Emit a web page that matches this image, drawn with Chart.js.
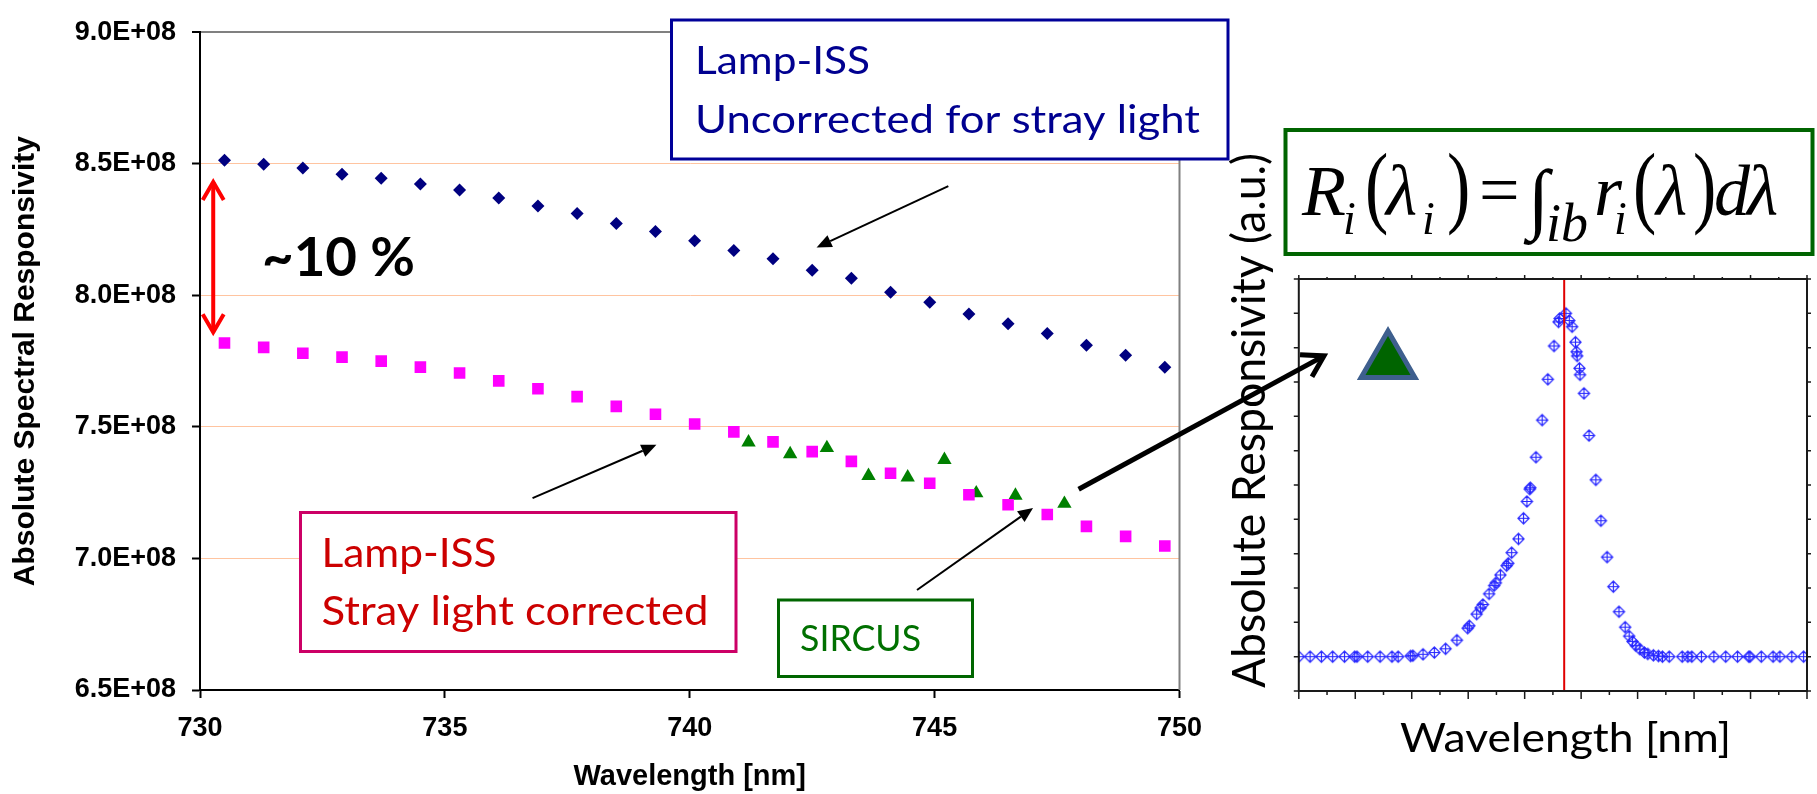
<!DOCTYPE html>
<html>
<head>
<meta charset="utf-8">
<script src="https://cdn.jsdelivr.net/npm/chart.js@4.4.1/dist/chart.umd.min.js"></script>
<style>
  html, body { margin: 0; padding: 0; background: #fff; }
  #wrap { position: relative; width: 1817px; height: 794px; overflow: hidden; }
  #wrap canvas { position: absolute; left: 0; top: 0; }
</style>
</head>
<body>
<div id="wrap">
  <canvas id="main" width="1817" height="794"></canvas>
  <canvas id="inset" width="1817" height="794"></canvas>
</div>
<script>
// ---- Lamp-ISS and SIRCUS responsivity, 730-750 nm ----
const wavelengthNm = [730.5, 731.3, 732.1, 732.9, 733.7, 734.5, 735.3, 736.1, 736.9, 737.7,
                      738.5, 739.3, 740.1, 740.9, 741.7, 742.5, 743.3, 744.1, 744.9, 745.7,
                      746.5, 747.3, 748.1, 748.9, 749.7];
const lampUncorrected = [8.513e8, 8.498e8, 8.484e8, 8.460e8, 8.445e8, 8.423e8, 8.400e8, 8.370e8, 8.339e8, 8.311e8,
                         8.273e8, 8.243e8, 8.207e8, 8.170e8, 8.139e8, 8.095e8, 8.065e8, 8.012e8, 7.974e8, 7.929e8,
                         7.892e8, 7.855e8, 7.810e8, 7.772e8, 7.727e8];
const lampCorrected = [7.819e8, 7.802e8, 7.780e8, 7.765e8, 7.750e8, 7.727e8, 7.705e8, 7.675e8, 7.645e8, 7.615e8,
                       7.578e8, 7.548e8, 7.511e8, 7.481e8, 7.443e8, 7.406e8, 7.369e8, 7.324e8, 7.286e8, 7.242e8,
                       7.204e8, 7.167e8, 7.122e8, 7.084e8, 7.047e8];
const sircusNm = [741.2, 742.05, 742.8, 743.65, 744.45, 745.2, 745.85, 746.65, 747.65];
const sircusResp = [7.441e8, 7.397e8, 7.420e8, 7.314e8, 7.308e8, 7.375e8, 7.248e8, 7.239e8, 7.208e8];

const xTicks = [730, 735, 740, 745, 750];
const yTicks = [6.5e8, 7.0e8, 7.5e8, 8.0e8, 8.5e8, 9.0e8];

// ---- filter band relative response (inset) ----
const bandNm = [725.0, 726.0, 727.0, 728.0, 729.05, 729.95, 730.15, 731.1, 732.2, 733.25,
                733.8, 734.9, 735.1, 736.0, 737.0, 738.0, 739.0, 739.95, 740.1, 740.75,
                741.1, 741.3, 741.85, 742.3, 742.45, 742.85, 743.4, 743.55, 743.85, 744.45,
                744.9, 745.2, 745.45, 745.5, 746.0, 746.55, 747.05, 747.6, 748.0, 748.1,
                748.65, 748.95, 749.2, 749.5, 749.6, 749.65, 749.85, 749.9, 750.25, 750.7,
                751.3, 751.75, 752.3, 752.85, 753.35, 753.9, 754.25, 754.55, 754.85, 755.2,
                755.6, 755.9, 756.4, 756.85, 757.2, 757.8, 758.95, 759.45, 759.8, 760.65,
                761.75, 762.8, 763.85, 764.85, 764.95, 765.95, 767.0, 767.6, 768.65, 769.7];
const bandResp = [0, 0, 0, 0, 0, 0, 0, 0, 0, 0,
                  0, 0.002, 0.003, 0.007, 0.012, 0.023, 0.048, 0.083, 0.090, 0.124,
                  0.142, 0.152, 0.183, 0.207, 0.215, 0.238, 0.265, 0.272, 0.303, 0.343,
                  0.403, 0.452, 0.488, 0.492, 0.581, 0.689, 0.808, 0.905, 0.975, 0.985,
                  1.000, 0.979, 0.961, 0.916, 0.888, 0.876, 0.840, 0.821, 0.767, 0.644,
                  0.515, 0.396, 0.290, 0.204, 0.131, 0.086, 0.060, 0.044, 0.032, 0.022,
                  0.012, 0.008, 0.004, 0.002, 0, 0, 0, 0, 0, 0,
                  0, 0, 0, 0, 0, 0, 0, 0, 0, 0];
const centerLineNm = [748.5, 748.5];
const centerLineResp = [-0.1, 1.1];
const sircusSymbolNm = [732.9];
const sircusSymbolResp = [0.858];

// annotation anchors, in data units
const gapArrow = { x: 730.27, top: 8.438e8, bottom: 7.852e8 };
const calloutArrows = [
  { from: [745.28, 8.415e8], to: [742.59, 8.182e8] },
  { from: [736.79, 7.229e8], to: [739.32, 7.432e8] },
  { from: [744.64, 6.880e8], to: [747.01, 7.192e8] }
];
const bandArrow = { from: [747.94, 7.263e8], to: [727.23, 0.876] };

const pts = (xs, ys) => xs.map((x, i) => ({ x, y: ys[i] }));

// ---- drawing helpers ----
function fitText(ctx, str, x, y, w, font, color) {
  ctx.save();
  ctx.font = font;
  ctx.fillStyle = color;
  ctx.textAlign = 'left';
  ctx.textBaseline = 'alphabetic';
  const mw = ctx.measureText(str).width;
  ctx.translate(x, y);
  ctx.scale(w / mw, 1);
  ctx.fillText(str, 0, 0);
  ctx.restore();
}
function box(ctx, x, y, w, h, color, lw) {
  ctx.save();
  ctx.fillStyle = '#fff';
  ctx.fillRect(x, y, w, h);
  ctx.strokeStyle = color;
  ctx.lineWidth = lw;
  ctx.strokeRect(x, y, w, h);
  ctx.restore();
}
function thinArrow(ctx, x1, y1, x2, y2) {
  const ang = Math.atan2(y2 - y1, x2 - x1);
  const len = 15, half = 6.5;
  const bx = x2 - len * Math.cos(ang), by = y2 - len * Math.sin(ang);
  ctx.save();
  ctx.strokeStyle = '#000';
  ctx.fillStyle = '#000';
  ctx.lineWidth = 2;
  ctx.beginPath(); ctx.moveTo(x1, y1); ctx.lineTo(bx, by); ctx.stroke();
  ctx.beginPath();
  ctx.moveTo(x2, y2);
  ctx.lineTo(bx + half * Math.sin(ang), by - half * Math.cos(ang));
  ctx.lineTo(bx - half * Math.sin(ang), by + half * Math.cos(ang));
  ctx.closePath(); ctx.fill();
  ctx.restore();
}
function openArrow(ctx, x1, y1, x2, y2, lw, arm, spread) {
  const back = Math.atan2(y1 - y2, x1 - x2);
  ctx.save();
  ctx.strokeStyle = '#000';
  ctx.lineWidth = lw;
  ctx.lineCap = 'butt';
  ctx.lineJoin = 'miter';
  ctx.beginPath(); ctx.moveTo(x1, y1); ctx.lineTo(x2, y2); ctx.stroke();
  ctx.beginPath();
  ctx.moveTo(x2 + arm * Math.cos(back + spread), y2 + arm * Math.sin(back + spread));
  ctx.lineTo(x2, y2);
  ctx.lineTo(x2 + arm * Math.cos(back - spread), y2 + arm * Math.sin(back - spread));
  ctx.stroke();
  ctx.restore();
}
function diamondCross(r, color) {
  const s = Math.ceil(2 * r + 3);
  const c = document.createElement('canvas');
  c.width = s; c.height = s;
  const g = c.getContext('2d');
  const m = s / 2;
  g.strokeStyle = color;
  g.lineWidth = 1.2;
  g.beginPath();
  g.moveTo(m, m - r); g.lineTo(m + r, m); g.lineTo(m, m + r); g.lineTo(m - r, m); g.closePath();
  g.moveTo(m - r, m); g.lineTo(m + r, m);
  g.moveTo(m, m - r); g.lineTo(m, m + r);
  g.stroke();
  return c;
}

const SANS = '"Liberation Sans", Arial, sans-serif';
const CAL = 'Lato, "Open Sans", sans-serif';
const SERIF = '"Liberation Serif", "Times New Roman", serif';

// ---- notes on the main plot ----
const mainNotes = {
  id: 'mainNotes',
  afterDraw(chart) {
    const { ctx, chartArea: a } = chart;
    const sx = chart.scales.x, sy = chart.scales.y;
    ctx.save();
    // right frame edge
    ctx.strokeStyle = '#808080';
    ctx.lineWidth = 2;
    ctx.beginPath(); ctx.moveTo(a.right, a.top); ctx.lineTo(a.right, a.bottom); ctx.stroke();

    // ~10 % gap marker
    const gx = sx.getPixelForValue(gapArrow.x);
    const gt = sy.getPixelForValue(gapArrow.top);
    const gb = sy.getPixelForValue(gapArrow.bottom);
    ctx.strokeStyle = '#FF0000';
    ctx.lineWidth = 4;
    ctx.lineJoin = 'miter';
    ctx.beginPath(); ctx.moveTo(gx, gt + 2); ctx.lineTo(gx, gb - 2); ctx.stroke();
    ctx.beginPath(); ctx.moveTo(gx - 10.5, gt + 20); ctx.lineTo(gx, gt + 2); ctx.lineTo(gx + 10.5, gt + 20); ctx.stroke();
    ctx.beginPath(); ctx.moveTo(gx - 10.5, gb - 20); ctx.lineTo(gx, gb - 2); ctx.lineTo(gx + 10.5, gb - 20); ctx.stroke();
    fitText(ctx, '~10 %', 262, 276, 153, 'bold 54px ' + CAL, '#000');

    // labels of the two lamp series and SIRCUS
    box(ctx, 671.5, 20, 556.5, 139, '#000099', 3);
    fitText(ctx, 'Lamp-ISS', 695, 74, 175, '38px ' + CAL, '#000090');
    fitText(ctx, 'Uncorrected for stray light', 695, 133, 505, '38px ' + CAL, '#000090');

    box(ctx, 300.5, 512.5, 435.5, 139, '#CC0066', 3);
    fitText(ctx, 'Lamp-ISS', 321.5, 567, 175, '40px ' + CAL, '#CC0000');
    fitText(ctx, 'Stray light corrected', 321.5, 625, 387, '40px ' + CAL, '#CC0000');

    box(ctx, 778.5, 600, 194, 76.5, '#006600', 3);
    fitText(ctx, 'SIRCUS', 800, 651, 121, '36px ' + CAL, '#007000');

    calloutArrows.forEach(ar => {
      thinArrow(ctx,
        sx.getPixelForValue(ar.from[0]), sy.getPixelForValue(ar.from[1]),
        sx.getPixelForValue(ar.to[0]), sy.getPixelForValue(ar.to[1]));
    });
    ctx.restore();
  }
};

const mainChart = new Chart(document.getElementById('main'), {
  type: 'scatter',
  data: {
    datasets: [
      { label: 'Lamp-ISS uncorrected', data: pts(wavelengthNm, lampUncorrected),
        pointStyle: 'rectRot', pointRadius: 6.5, backgroundColor: '#000080', borderWidth: 0 },
      { label: 'Lamp-ISS stray light corrected', data: pts(wavelengthNm, lampCorrected),
        pointStyle: 'rect', pointRadius: 8.2, backgroundColor: '#FF00FF', borderWidth: 0 },
      { label: 'SIRCUS', data: pts(sircusNm, sircusResp),
        pointStyle: 'triangle', pointRadius: 8.3, backgroundColor: '#008000', borderWidth: 0 }
    ]
  },
  options: {
    responsive: false,
    animation: false,
    events: [],
    layout: { autoPadding: false, padding: { left: 0, top: 21.3, right: 637.5, bottom: 0 } },
    plugins: { legend: { display: false }, tooltip: { enabled: false } },
    scales: {
      x: {
        type: 'linear', min: 730, max: 750,
        afterBuildTicks: s => { s.ticks = xTicks.map(v => ({ value: v })); },
        afterFit: s => { s.height = 104; },
        ticks: { font: { family: SANS, size: 27, weight: 'bold' }, color: '#000', padding: 14, maxRotation: 0 },
        grid: { drawOnChartArea: false, drawTicks: true, tickLength: 8, tickColor: '#000', tickWidth: 2 },
        border: { color: '#000', width: 2 },
        title: { display: true, text: 'Wavelength [nm]', color: '#000',
                 font: { family: SANS, size: 29, weight: 'bold' }, padding: 0 }
      },
      y: {
        type: 'linear', min: 6.5e8, max: 9.0e8,
        afterBuildTicks: s => { s.ticks = yTicks.map(v => ({ value: v })); },
        afterFit: s => { s.width = 200; },
        ticks: { callback: v => (v / 1e8).toFixed(1) + 'E+08',
                 font: { family: SANS, size: 27, weight: 'bold' }, color: '#000', padding: 16 },
        grid: {
          color: c => (c.tick && c.tick.value >= 9e8) ? '#808080' : '#FFC4A0',
          lineWidth: c => (c.tick && c.tick.value >= 9e8) ? 2 : 1,
          tickColor: '#000', tickLength: 8, tickWidth: 2
        },
        border: { color: '#000', width: 2 },
        title: { display: true, text: 'Absolute Spectral Responsivity', color: '#000',
                 font: { family: SANS, size: 30, weight: 'bold' }, padding: { top: 8, bottom: 0 } }
      }
    }
  },
  plugins: [mainNotes]
});

// ---- notes on the band inset ----
const insetNotes = {
  id: 'insetNotes',
  afterDraw(chart) {
    const { ctx, chartArea: a } = chart;
    const sx = chart.scales.x, sy = chart.scales.y;
    ctx.save();
    // frame and ticks
    ctx.strokeStyle = '#1a1a1a';
    ctx.lineWidth = 2;
    ctx.strokeRect(a.left, a.top, a.right - a.left, a.bottom - a.top);
    ctx.lineWidth = 1.5;
    ctx.beginPath();
    for (let i = 0; i <= 18; i++) {
      const v = sx.min + i * 2.5;
      const px = sx.getPixelForValue(v);
      const major = i % 2 === 0;
      ctx.moveTo(px, a.bottom); ctx.lineTo(px, a.bottom + (major ? 8 : 4));
      ctx.moveTo(px, a.top); ctx.lineTo(px, a.top - (major ? 4 : 2));
    }
    for (let j = 0; j <= 12; j++) {
      const v = sy.min + j * 0.1;
      const py = sy.getPixelForValue(v);
      ctx.moveTo(a.left, py); ctx.lineTo(a.left - 5, py);
      ctx.moveTo(a.right, py); ctx.lineTo(a.right + 4, py);
    }
    ctx.stroke();

    // axis titles
    fitText(ctx, 'Wavelength [nm]', 1400, 752, 331, '40px ' + CAL, '#000');
    ctx.save();
    ctx.translate(1265, 688);
    ctx.rotate(-Math.PI / 2);
    fitText(ctx, 'Absolute Responsivity (a.u.)', 0, 0, 535, '46px ' + CAL, '#000');
    ctx.restore();

    // in-band integral
    ctx.strokeStyle = '#006400';
    ctx.lineWidth = 4;
    ctx.strokeRect(1285.5, 130, 527, 124);
    const eq = [
      ['R', 1302, 215, 72, true], ['i', 1343, 234, 46, true],
      ['(', 1365, 216, 70, false, 1.3], ['\u03bb', 1386, 215, 72, true], ['i', 1422, 234, 46, true],
      [')', 1447, 216, 70, false, 1.3], ['=', 1479, 214, 72, false],
      ['\u222b', 1528, 224, 78, false], ['ib', 1546, 241, 54, true],
      ['r', 1594, 215, 72, true], ['i', 1614, 234, 46, true],
      ['(', 1633, 216, 70, false, 1.3], ['\u03bb', 1656, 215, 72, true], [')', 1693, 216, 70, false, 1.3],
      ['d', 1714, 215, 72, true], ['\u03bb', 1747, 215, 72, true]
    ];
    ctx.fillStyle = '#000';
    ctx.textAlign = 'left';
    ctx.textBaseline = 'alphabetic';
    eq.forEach(([t, x, y, size, it, stretch]) => {
      ctx.font = (it ? 'italic ' : '') + size + 'px ' + SERIF;
      ctx.save();
      ctx.translate(x, y);
      if (stretch) ctx.scale(1, stretch);
      ctx.fillText(t, 0, 0);
      ctx.restore();
    });

    // arrow from the last SIRCUS point into the band plot
    const m = mainChart.scales;
    openArrow(ctx,
      m.x.getPixelForValue(bandArrow.from[0]), m.y.getPixelForValue(bandArrow.from[1]),
      sx.getPixelForValue(bandArrow.to[0]), sy.getPixelForValue(bandArrow.to[1]),
      5, 24, 0.55);
    ctx.restore();
  }
};

const insetChart = new Chart(document.getElementById('inset'), {
  type: 'scatter',
  data: {
    datasets: [
      { label: 'band centre', data: pts(centerLineNm, centerLineResp), showLine: true,
        borderColor: '#E00000', borderWidth: 2, pointRadius: 0 },
      { label: 'relative response', data: pts(bandNm, bandResp),
        pointStyle: diamondCross(5.6, '#2626FF'), pointRadius: 6 },
      { label: 'SIRCUS', data: pts(sircusSymbolNm, sircusSymbolResp),
        pointStyle: 'triangle', pointRadius: 31, backgroundColor: '#006400',
        borderColor: '#3E5F8E', borderWidth: 5 }
    ]
  },
  options: {
    responsive: false,
    animation: false,
    events: [],
    layout: { autoPadding: false, padding: { left: 1298.8, top: 279, right: 10, bottom: 103 } },
    plugins: { legend: { display: false }, tooltip: { enabled: false } },
    scales: {
      x: { type: 'linear', min: 725, max: 770, display: false },
      y: { type: 'linear', min: -0.1, max: 1.1, display: false }
    }
  },
  plugins: [insetNotes]
});
</script>
</body>
</html>
